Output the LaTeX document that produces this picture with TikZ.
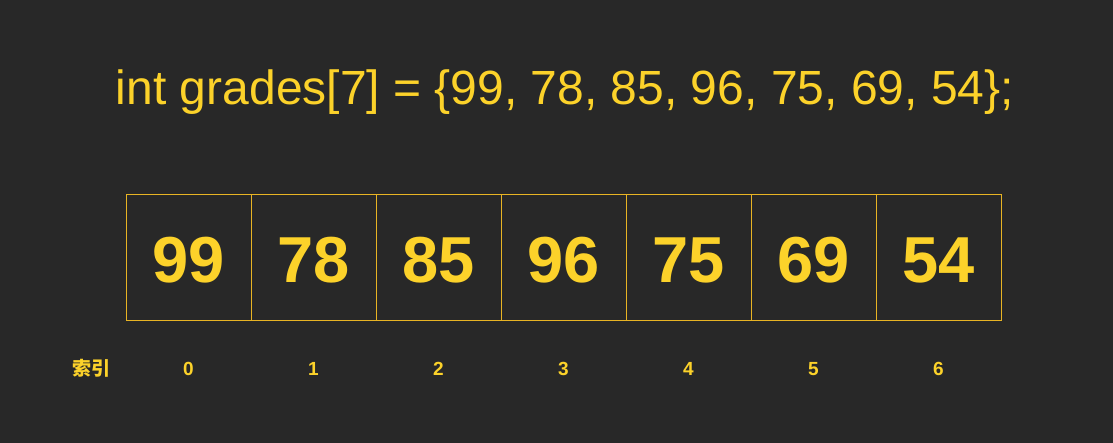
\documentclass[tikz,border=0pt]{standalone}
\usepackage{fontspec}
\setmainfont{Liberation Sans}
\newfontfamily\cjk{Noto Sans CJK SC}
\definecolor{bg}{HTML}{282828}
\definecolor{gold}{HTML}{FCD22A}
\definecolor{line}{HTML}{E8B424}
\begin{document}
\begin{tikzpicture}[x=1pt,y=-1pt,
  cell/.style={draw=line,line width=0.9pt,minimum width=125pt,minimum height=126pt,inner sep=0pt,anchor=north west},
  num/.style={text=gold,font=\fontsize{65}{65}\selectfont\bfseries,anchor=base},
  idx/.style={text=gold,font=\fontsize{19}{19}\selectfont\bfseries,anchor=base},
  title/.style={text=gold,font=\fontsize{48}{48}\selectfont,anchor=base}]
\fill[bg] (0,0) rectangle (1113,443);
\useasboundingbox (0,0) rectangle (1113,443);
\node[title] (t) at (565,104.5) {int grades[7] = \{99, 78, 85, 96, 75, 69, 54\};};
\foreach \v [count=\i from 0] in {99,78,85,96,75,69,54}{
  \node[cell] (c\i) at (126+125*\i,194) {};
  \node[num] (n\i) at ([yshift=-25pt]c\i.center) {\v};
  \node[idx] (i\i) at (188.5+125*\i,375) {\i};
}
\node[text=gold,font=\cjk\fontsize{19}{19}\selectfont\bfseries,anchor=base] (lbl) at (91,375) {索引};
\end{tikzpicture}
\end{document}
